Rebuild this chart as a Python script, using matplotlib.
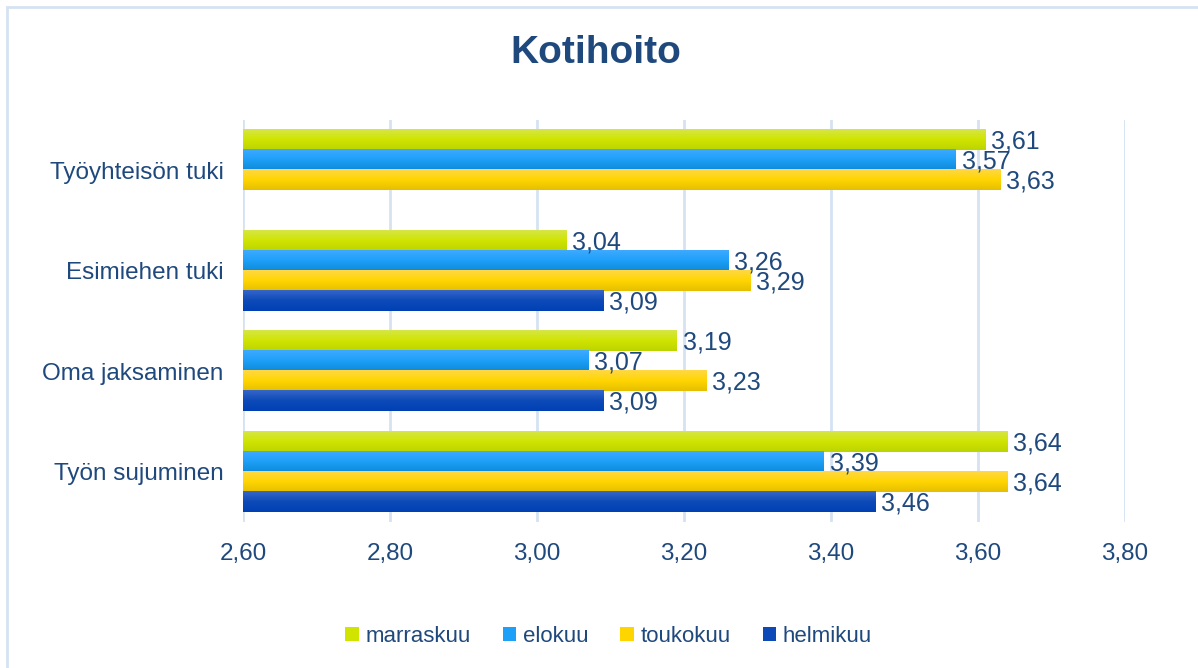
import numpy as np
import matplotlib.pyplot as plt
from matplotlib.patches import Patch, Rectangle
from matplotlib.colors import LinearSegmentedColormap

plt.rcParams['font.family'] = ['Liberation Sans', 'DejaVu Sans']

# data (bottom to top)
categories = ["Työn sujuminen", "Oma jaksaminen", "Esimiehen tuki", "Työyhteisön tuki"]
series = ["marraskuu", "elokuu", "toukokuu", "helmikuu"]
marraskuu = [3.64, 3.19, 3.04, 3.61]
elokuu = [3.39, 3.07, 3.26, 3.57]
toukokuu = [3.64, 3.23, 3.29, 3.63]
helmikuu = [3.46, 3.09, 3.09, np.nan]
xticks = [2.60, 2.80, 3.00, 3.20, 3.40, 3.60, 3.80]

values = [marraskuu, elokuu, toukokuu, helmikuu]
# gradient colours: top, middle, bottom
grads = [
    ["#d6e646", "#d0e400", "#bcd400"],
    ["#3eaaff", "#1ea0f8", "#0e8ad8"],
    ["#ffd845", "#ffd500", "#e6bf00"],
    ["#3666c8", "#0d4ab8", "#0040b4"],
]
mids = [g[1] for g in grads]
txt_col = "#1f497d"
base = 2.60

fig = plt.figure(figsize=(11.98, 6.68), dpi=100)
ax = fig.add_axes([243/1198, 1-522/668, (1125-243)/1198, (522-120)/668])

y = np.arange(len(categories))
h = 0.2
for i, (name, vals) in enumerate(zip(series, values)):
    v = np.array(vals, dtype=float)
    off = 0.3 - i * h
    bars = ax.barh(y + off, v - base, height=h, left=base, color=mids[i], zorder=2)
    cmap = LinearSegmentedColormap.from_list(name, grads[i][::-1])
    for b, val in zip(bars, v):
        if np.isnan(val):
            continue
        x0, y0 = b.get_x(), b.get_y()
        x1, y1 = x0 + b.get_width(), y0 + b.get_height()
        grad = np.linspace(0, 1, 64).reshape(-1, 1)
        ax.imshow(grad, extent=(x0, x1, y0, y1), origin='lower', cmap=cmap,
                  aspect='auto', zorder=3, interpolation='bilinear')
        ax.text(x1 + 0.008, y0 + h / 2 - 0.015, f"{val:.2f}".replace(".", ","),
                va='center', ha='left', fontsize=18, color=txt_col, zorder=4)

ax.set_xlim(2.60, 3.80)
ax.set_ylim(-0.5, 3.5)
ax.set_xticks(xticks)
ax.set_xticklabels([f"{t:.2f}".replace(".", ",") for t in xticks], fontsize=17.5, color=txt_col)
ax.set_yticks(y)
ax.set_yticklabels(categories, fontsize=17.5, color=txt_col)
ax.tick_params(length=0)
ax.tick_params(axis='x', pad=15)
ax.tick_params(axis='y', pad=14)
ax.grid(axis='x', color="#d6e2f2", linewidth=2, zorder=0)
for s in ax.spines.values():
    s.set_visible(False)

fig.text(0.497, 1 - 53/668, "Kotihoito", ha='center', va='center',
         fontsize=28, fontweight='bold', color=txt_col)

handles = [Patch(facecolor=c, edgecolor='none') for c in mids]
fig.legend(handles, series, loc='center', bbox_to_anchor=(0.508, 1 - 636/668), ncol=4,
           frameon=False, fontsize=16, labelcolor=txt_col, handlelength=0.6,
           handleheight=0.6, handletextpad=0.3, columnspacing=1.45)

fig.patches.append(Rectangle((7/1198, -0.1), 1.2, 1 - 7/668 + 0.1, transform=fig.transFigure,
                             fill=False, edgecolor="#d6e2f2", linewidth=2))

fig.savefig("out.png", dpi=100)
